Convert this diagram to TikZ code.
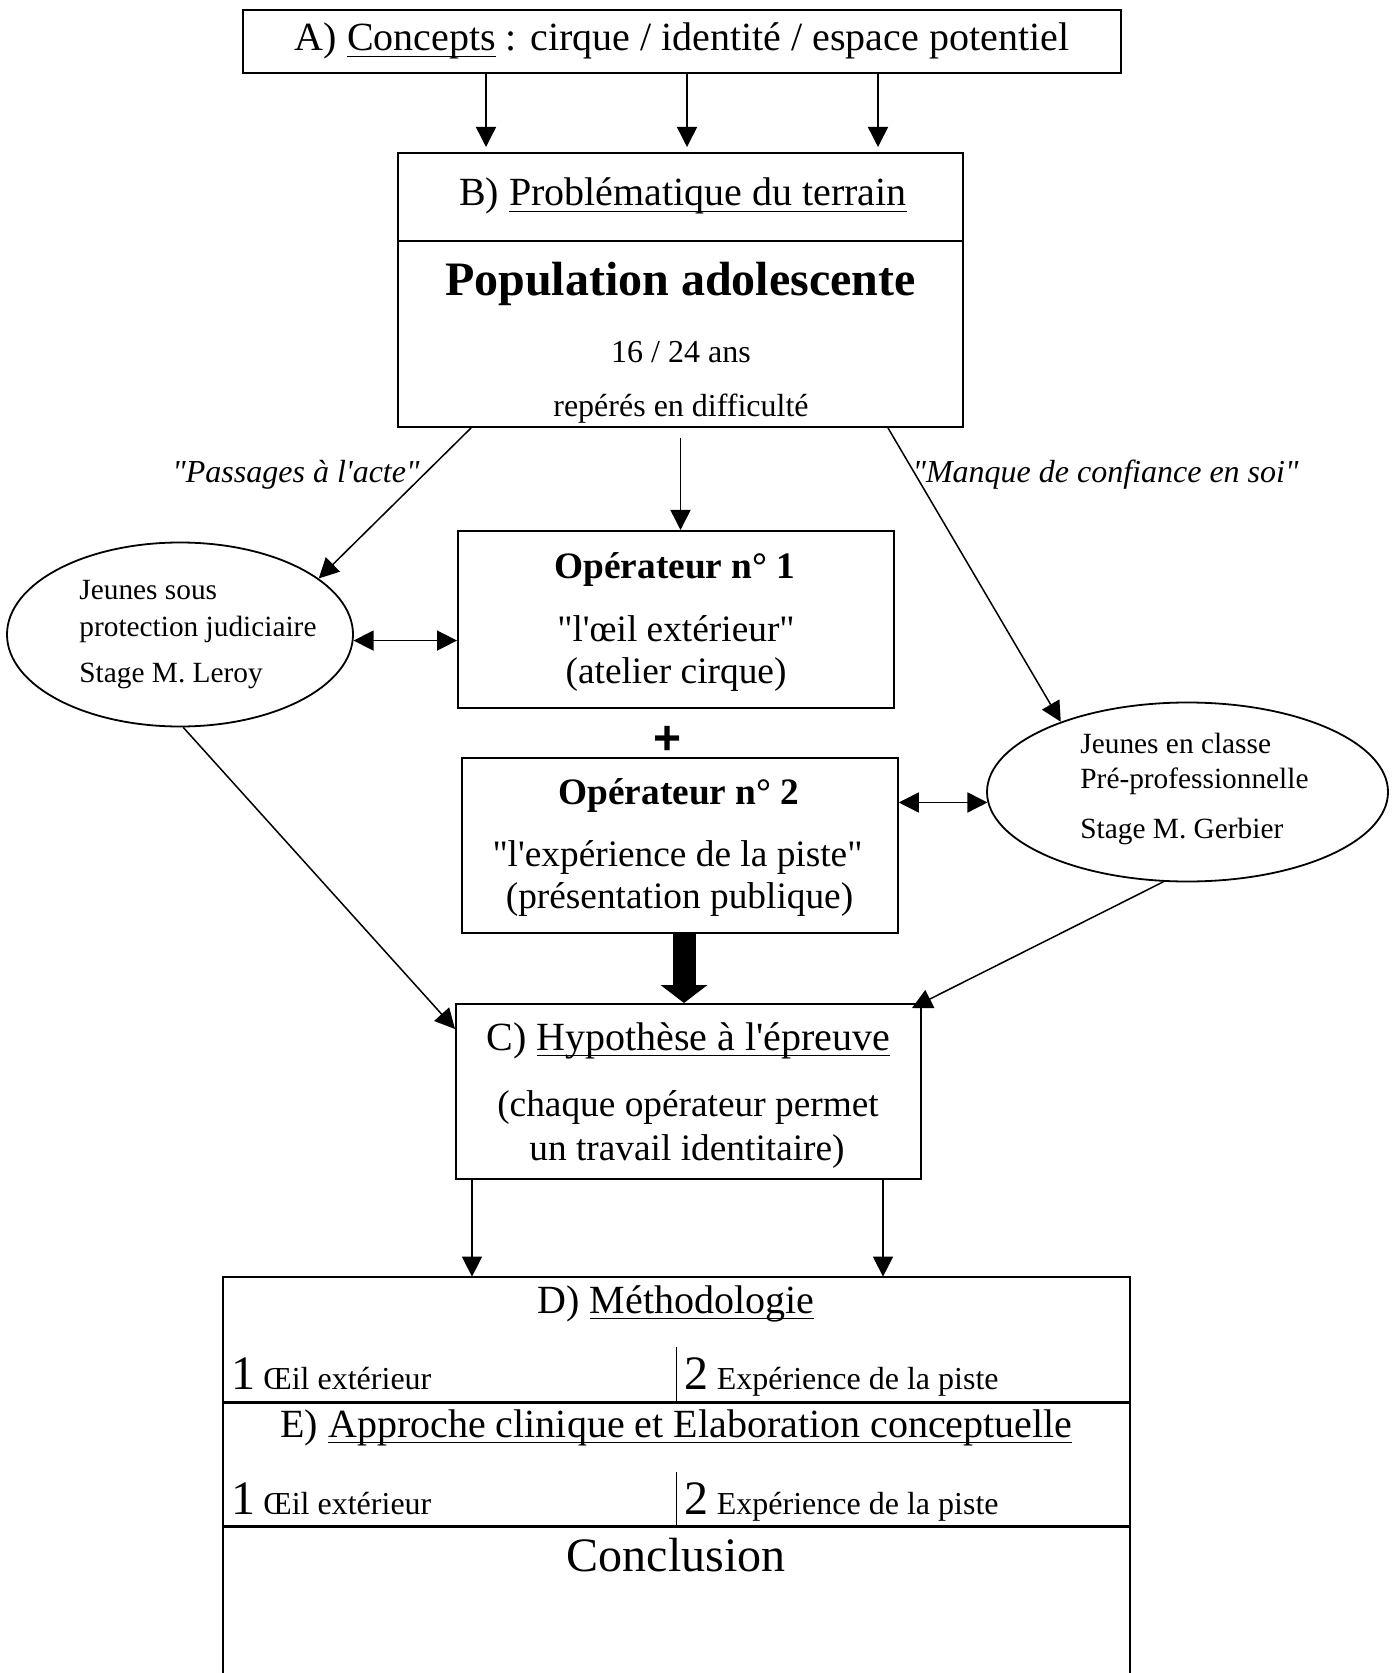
\documentclass[tikz,border=0pt]{standalone}
\usepackage{fontspec}
\setmainfont{Liberation Serif}
\newfontfamily\plusfont{Liberation Sans}
\usepackage{tikz}
\usetikzlibrary{arrows.meta,calc,shapes.geometric}
\newsavebox{\ulbox}
\newcommand{\souligne}[1]{\sbox{\ulbox}{#1}\rlap{\rule[-3.2pt]{\wd\ulbox}{0.9pt}}\usebox{\ulbox}}
\newcommand{\aps}{\textquotesingle}
\newcommand{\guil}{\textquotedbl}
\tikzset{
  boite/.style={draw, line width=1pt, inner sep=0pt},
  bulle/.style={ellipse, draw, line width=0.9pt, inner sep=0pt},
  txt/.style={inner sep=0pt, anchor=base},
  fhead/.style={txt, font=\fontsize{20}{24}\selectfont},
  fbody/.style={txt, font=\fontsize{18.67}{22}\selectfont},
  fbold/.style={txt, font=\fontsize{18.67}{22}\selectfont\bfseries},
  fnote/.style={txt, font=\fontsize{16}{19}\selectfont},
  fital/.style={txt, font=\fontsize{16}{19}\selectfont\itshape},
  fbulle/.style={txt, anchor=base west, font=\fontsize{14.67}{17}\selectfont},
  flow/.style={-{Triangle[length=10pt, width=10pt]}, line width=0.75pt},
  twoway/.style={{Triangle[length=10pt, width=10pt]}-{Triangle[length=10pt, width=10pt]}, line width=0.75pt},
  heavy/.style={-{Triangle[length=9pt, width=23pt]}, line width=11.5pt},
}

\begin{document}
\begin{tikzpicture}[x=0.5pt, y=-0.5pt]
\useasboundingbox (0,0) rectangle (1397,1673);

\node[boite, line width=1.3pt, minimum width=439pt, minimum height=31.5pt] (A) at (682,41.5) {};
\node[fhead] (Atxt) at (682,51) {A) \souligne{Concepts} : cirque / identité / espace potentiel};

\node[boite, minimum width=282.5pt, minimum height=44pt] (Bh) at (680.5,197) {};
\node[boite, minimum width=282.5pt, minimum height=93pt] (Bb) at (680.5,334) {};
\node[fhead] (Btxt) at (683,206) {B) \souligne{Problématique du terrain}};
\node[txt, font=\fontsize{24}{28}\selectfont\bfseries] (pop) at (680.5,296) {Population adolescente};
\node[fnote] (age) at (681,363) {16 / 24 ans};
\node[fnote] (diff) at (681,417) {repérés en difficulté};

\node[fital] (acte) at (296,483) {\guil Passages à l\aps acte\guil};
\node[fital] (conf) at (1105.5,483) {\guil Manque de confiance en soi\guil};

\node[boite, minimum width=218pt, minimum height=88.5pt] (Op1) at (676,619.5) {};
\node[fbold] (Op1a) at (675,578) {Opérateur n° 1};
\node[fbody] (Op1b) at (676,641) {\guil l\aps œil extérieur\guil};
\node[fbody] (Op1c) at (676,683) {(atelier cirque)};

\node[txt, font=\plusfont\bfseries\fontsize{24}{28}\selectfont] (plus) at (668,754) {+};

\node[boite, minimum width=217.75pt, minimum height=87.5pt] (Op2) at (680,845.5) {};
\node[fbold] (Op2a) at (679,804) {Opérateur n° 2};
\node[fbody] (Op2b) at (677.5,866) {\guil l\aps expérience de la piste\guil};
\node[fbody] (Op2c) at (679.5,908) {(présentation publique)};

\node[bulle, minimum width=173pt, minimum height=92pt] (Lell) at (180,634.5) {};
\node[fbulle] (L1) at (79,599) {Jeunes sous};
\node[fbulle] (L2) at (79,636) {protection judiciaire};
\node[fbulle] (L3) at (79,682) {Stage M. Leroy};

\node[bulle, minimum width=200.5pt, minimum height=89.5pt] (Rell) at (1187.5,792) {};
\node[fbulle] (R1) at (1080,753) {Jeunes en classe};
\node[fbulle] (R2) at (1080,788) {Pré-professionnelle};
\node[fbulle] (R3) at (1080,838) {Stage M. Gerbier};

\node[boite, minimum width=232.5pt, minimum height=87.5pt] (C) at (688.5,1091.5) {};
\node[fhead] (Ctxt) at (688.5,1050) {C) \souligne{Hypothèse à l\aps épreuve}};
\node[fbody] (C2) at (688,1116) {(chaque opérateur permet};
\node[fbody] (C3) at (687,1160) {un travail identitaire)};

\node[inner sep=0pt, minimum width=453.5pt, minimum height=198pt] (D) at (676.5,1475) {};
\draw[line width=1pt] (D.south west) |- (D.north east) -- (D.south east);
\draw[line width=1.2pt] ([yshift=-63pt]D.north west) -- ([yshift=-63pt]D.north east);
\draw[line width=1.2pt] ([yshift=-125pt]D.north west) -- ([yshift=-125pt]D.north east);
\draw[line width=0.6pt] ([yshift=-35pt]D.north) -- ([yshift=-63pt]D.north);
\draw[line width=0.6pt] ([yshift=-97.5pt]D.north) -- ([yshift=-125pt]D.north);
\node[fhead] (Dtxt) at (676,1313) {D) \souligne{Méthodologie}};
\node[fnote, anchor=base west] (D1) at (231,1389) {{\fontsize{24}{28}\selectfont 1} Œil extérieur};
\node[fnote, anchor=base west] (D2) at (684.5,1389) {{\fontsize{24}{28}\selectfont 2} Expérience de la piste};
\node[fhead] (Etxt) at (676.5,1437) {E) \souligne{Approche clinique et Elaboration conceptuelle}};
\node[fnote, anchor=base west] (E1) at (231,1514) {{\fontsize{24}{28}\selectfont 1} Œil extérieur};
\node[fnote, anchor=base west] (E2) at (684.5,1514) {{\fontsize{24}{28}\selectfont 2} Expérience de la piste};
\node[txt, font=\fontsize{24}{28}\selectfont] (concl) at (676,1571) {Conclusion};

\draw[flow, shorten >=2.5pt] ([xshift=-98pt]A.south) -- ([xshift=-98pt]A.south |- Bh.north);
\draw[flow, shorten >=2.5pt] ([xshift=2.5pt]A.south) -- ([xshift=2.5pt]A.south |- Bh.north);
\draw[flow, shorten >=2.5pt] ([xshift=98pt]A.south) -- ([xshift=98pt]A.south |- Bh.north);
\draw[flow, shorten <=5pt] (Bb.south) -- (Bb.south |- Op1.north);
\draw[flow] ([xshift=37pt]Bb.south west) -- (Lell.22);
\draw[flow] ([xshift=-38pt]Bb.south east) -- (Rell.151);
\draw[twoway] (Lell.-2) -- (Lell.-2 -| Op1.west);
\draw[twoway] (Rell.183) -- (Rell.183 -| Op2.east);
\draw[heavy] ([xshift=2pt]Op2.south) -- ([xshift=2pt]Op2.south |- C.north);
\draw[flow] (Lell.-88) -- ([yshift=-13pt]C.north west);
\draw[flow] (Rell.-105) -- ([xshift=-5pt, yshift=-2.5pt]C.north east);
\draw[flow] ([xshift=8.5pt]C.south west) -- ([xshift=8.5pt]C.south west |- D.north);
\draw[flow] ([xshift=-19.5pt]C.south east) -- ([xshift=-19.5pt]C.south east |- D.north);
\end{tikzpicture}
\end{document}
